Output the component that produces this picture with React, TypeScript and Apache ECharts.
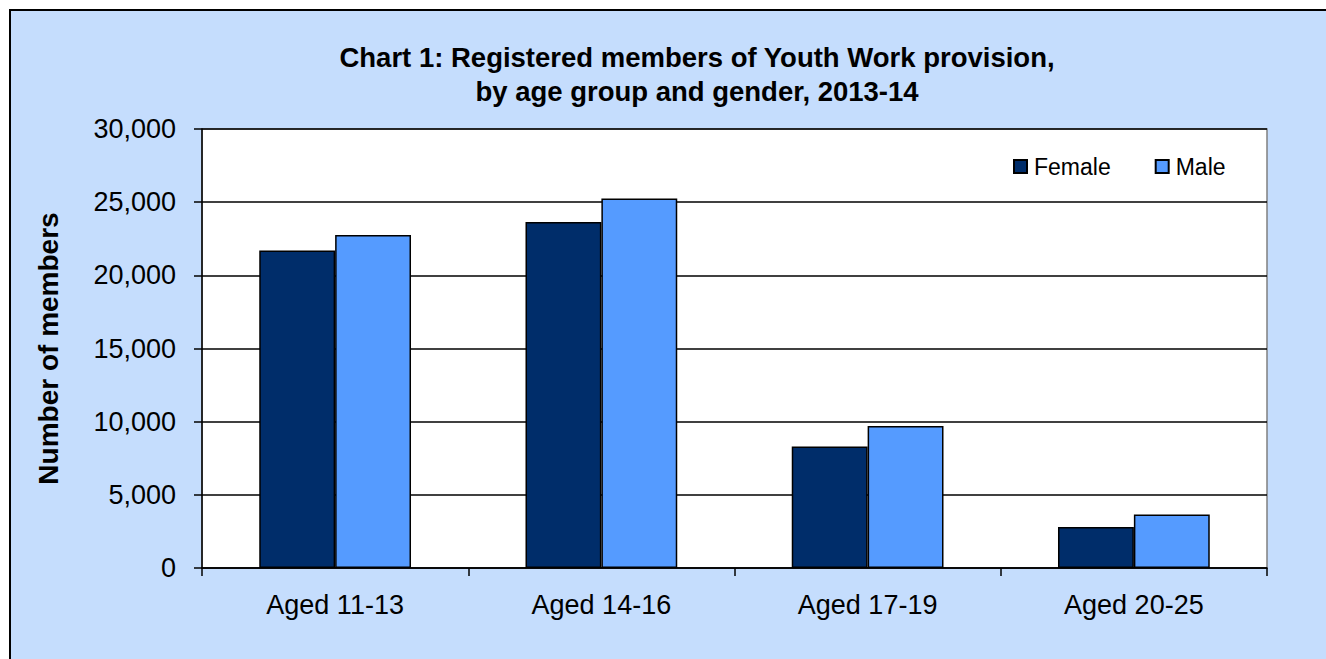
import React, { useEffect, useRef } from "react";
import * as echarts from "echarts";

const categories = ["Aged 11-13", "Aged 14-16", "Aged 17-19", "Aged 20-25"];
const femaleValues = [21700, 23650, 8300, 2800];
const maleValues = [22750, 25250, 9700, 3650];
const seriesNames = ["Female", "Male"];
const titleLines = [
  "Chart 1: Registered members of Youth Work provision,",
  "by age group and gender, 2013-14",
];
const yAxisName = "Number of members";

export default function App() {
  const ref = useRef<HTMLDivElement>(null);
  useEffect(() => {
    document.body.style.margin = "0";
    const chart = echarts.init(ref.current!, null, { renderer: "svg" });
    const font = "'Liberation Sans', Arial, sans-serif";
    chart.setOption({
      animation: false,
      backgroundColor: "#ffffff",
      textStyle: { fontFamily: font },
      graphic: [
        {
          type: "rect",
          z: -10,
          silent: true,
          shape: { x: 10, y: 10, width: 1316, height: 649 },
          style: { fill: "#C5DDFD" },
        },
        {
          type: "polyline",
          z: -9,
          silent: true,
          shape: { points: [[10, 659], [10, 10], [1326, 10]] },
          style: { stroke: "#000", lineWidth: 2, fill: "none" },
        },
      ],
      title: {
        text: titleLines.join("\n"),
        left: 692,
        top: 35,
        textAlign: "center",
        textStyle: {
          fontFamily: font,
          fontWeight: "bold",
          fontSize: 27.5,
          lineHeight: 34,
          color: "#000",
        },
      },
      legend: {
        data: seriesNames,
        left: 1013,
        top: 155,
        padding: 0,
        itemWidth: 13,
        itemHeight: 13,
        itemGap: 44,
        icon: "rect",
        textStyle: { fontFamily: font, fontSize: 23, color: "#000", padding: [0, 0, 0, 2] },
      },
      grid: {
        left: 202,
        top: 129,
        right: 59,
        bottom: 91,
        show: true,
        backgroundColor: "#ffffff",
        borderColor: "#808080",
        borderWidth: 1.5,
      },
      xAxis: {
        type: "category",
        data: categories,
        axisLine: { show: true, lineStyle: { color: "#000", width: 1.5 } },
        axisTick: { show: true, length: 8, lineStyle: { color: "#000", width: 1.5 } },
        axisLabel: { fontFamily: font, fontSize: 27, color: "#000", margin: 23 },
      },
      yAxis: {
        type: "value",
        min: 0,
        max: 30000,
        interval: 5000,
        name: yAxisName,
        nameLocation: "middle",
        nameRotate: 90,
        nameGap: 140,
        nameTextStyle: { fontFamily: font, fontWeight: "bold", fontSize: 28, color: "#000" },
        axisLine: { show: true, lineStyle: { color: "#000", width: 1.5 } },
        axisTick: { show: true, length: 8, lineStyle: { color: "#000", width: 1.5 } },
        splitLine: { show: true, lineStyle: { color: "#000", width: 1.5 } },
        axisLabel: {
          fontFamily: font,
          fontSize: 27,
          color: "#000",
          margin: 26,
          formatter: (v: number) => v.toLocaleString("en-US"),
        },
      },
      series: [
        {
          name: seriesNames[0],
          type: "bar",
          data: femaleValues,
          barGap: "0%",
          barCategoryGap: "43%",
          itemStyle: { color: "#002D6A", borderColor: "#000", borderWidth: 1.5 },
        },
        {
          name: seriesNames[1],
          type: "bar",
          data: maleValues,
          barGap: "0%",
          barCategoryGap: "43%",
          itemStyle: { color: "#559BFF", borderColor: "#000", borderWidth: 1.5 },
        },
      ],
    });
    return () => chart.dispose();
  }, []);
  return <div ref={ref} style={{ width: 1326, height: 659 }} />;
}
